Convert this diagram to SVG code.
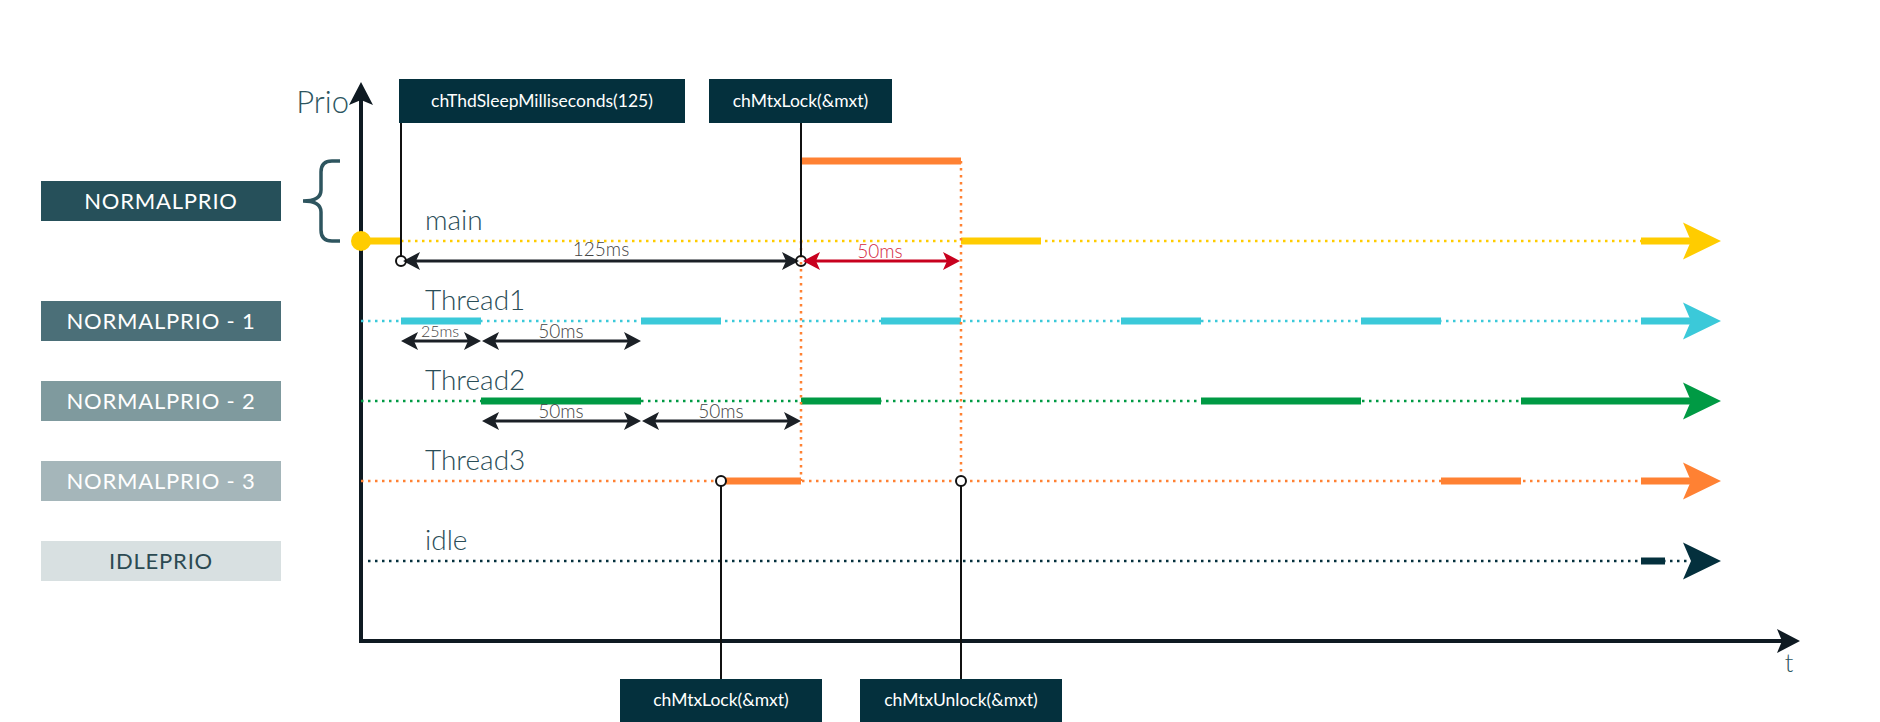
<svg xmlns="http://www.w3.org/2000/svg" xmlns:xlink="http://www.w3.org/1999/xlink" width="1880" height="722" viewBox="0 0 1880 722">
<style>
  text { font-family: Lato, "Open Sans", "Liberation Sans", sans-serif; }
  .lvl { font-size: 22px; fill: #ffffff; text-anchor: middle; letter-spacing: 0.8px; }
  .call { font-size: 17.5px; fill: #ffffff; text-anchor: middle; }
  .row { font-size: 28px; fill: #2a4d57; font-weight: 300; }
  .dur { font-size: 19px; fill: #444444; text-anchor: middle; font-weight: 300; }
  .dot { fill: none; stroke-width: 2.5; stroke-dasharray: 2.5 4.5; }
  .bar { fill: none; stroke-width: 7; }
  .dim { stroke: #1b2026; stroke-width: 3; fill: none; }
  .thin { stroke: #111; stroke-width: 2; fill: none; }
</style>
<defs>
  <path id="bighead" d="M0,0 L-38,-18.5 L-30,0 L-38,18.5 Z"/>
  <path id="dimhead" d="M0,0 L-17,-9 L-13,0 L-17,9 Z"/>
</defs>
<rect width="1880" height="722" fill="#ffffff"/>

<!-- priority level labels -->
<g id="lvl-normal"><rect x="41" y="181" width="240" height="40" fill="#26505a"/><text class="lvl" x="161" y="209">NORMALPRIO</text></g>
<g id="lvl-normal-1"><rect x="41" y="301" width="240" height="40" fill="#4b6f78"/><text class="lvl" x="161" y="329">NORMALPRIO - 1</text></g>
<g id="lvl-normal-2"><rect x="41" y="381" width="240" height="40" fill="#7f9a9e"/><text class="lvl" x="161" y="409">NORMALPRIO - 2</text></g>
<g id="lvl-normal-3"><rect x="41" y="461" width="240" height="40" fill="#a5b6ba"/><text class="lvl" x="161" y="489">NORMALPRIO - 3</text></g>
<g id="lvl-idle"><rect x="41" y="541" width="240" height="40" fill="#d8e0e1"/><text class="lvl" x="161" y="569" style="fill:#2c4a52">IDLEPRIO</text></g>

<!-- brace -->
<g id="brace"><path d="M340,161 H332 Q321,161 321,172 V190 Q321,201 303,201 Q321,201 321,212 V230 Q321,241 332,241 H340" fill="none" stroke="#2e555f" stroke-width="3.5"/></g>

<!-- axes -->
<g id="axes">
  <line x1="361" y1="98" x2="361" y2="643" stroke="#0f1a22" stroke-width="4"/>
  <path d="M361,82 L349,105 L361,100 L373,105 Z" fill="#0f1a22"/>
  <line x1="359" y1="641" x2="1784" y2="641" stroke="#0f1a22" stroke-width="4"/>
  <path d="M1800,641 L1777,629 L1782,641 L1777,653 Z" fill="#0f1a22"/>
  <text x="349" y="113" font-size="31" fill="#2c5560" font-weight="300" text-anchor="end">Prio</text>
  <text x="1789" y="672" font-size="25" fill="#2c5560" text-anchor="middle" font-weight="300">t</text>
</g>

<!-- rows -->
<g id="row-main">
  <text class="row" x="425" y="230">main</text>
  <line class="dot" x1="401" y1="241" x2="1641" y2="241" stroke="#ffcc00"/>
  <line class="bar" x1="361" y1="241" x2="401" y2="241" stroke="#ffcc00"/>
  <circle cx="361" cy="241" r="10" fill="#ffcc00"/>
  <line class="bar" x1="961" y1="241" x2="1041" y2="241" stroke="#ffcc00"/>
  <line class="bar" x1="1641" y1="241" x2="1692" y2="241" stroke="#ffcc00"/>
  <use href="#bighead" xlink:href="#bighead" transform="translate(1721,241)" fill="#ffcc00"/>
</g>
<g id="row-thread1">
  <text class="row" x="425" y="310">Thread1</text>
  <line class="dot" x1="361" y1="321" x2="1641" y2="321" stroke="#3bc9d9"/>
  <line class="bar" x1="401" y1="321" x2="481" y2="321" stroke="#3bc9d9"/>
  <line class="bar" x1="641" y1="321" x2="721" y2="321" stroke="#3bc9d9"/>
  <line class="bar" x1="881" y1="321" x2="961" y2="321" stroke="#3bc9d9"/>
  <line class="bar" x1="1121" y1="321" x2="1201" y2="321" stroke="#3bc9d9"/>
  <line class="bar" x1="1361" y1="321" x2="1441" y2="321" stroke="#3bc9d9"/>
  <line class="bar" x1="1641" y1="321" x2="1692" y2="321" stroke="#3bc9d9"/>
  <use href="#bighead" xlink:href="#bighead" transform="translate(1721,321)" fill="#3bc9d9"/>
</g>
<g id="row-thread2">
  <text class="row" x="425" y="390">Thread2</text>
  <line class="dot" x1="361" y1="401" x2="1521" y2="401" stroke="#009a44"/>
  <line class="bar" x1="481" y1="401" x2="641" y2="401" stroke="#009a44"/>
  <line class="bar" x1="801" y1="401" x2="881" y2="401" stroke="#009a44"/>
  <line class="bar" x1="1201" y1="401" x2="1361" y2="401" stroke="#009a44"/>
  <line class="bar" x1="1521" y1="401" x2="1692" y2="401" stroke="#009a44"/>
  <use href="#bighead" xlink:href="#bighead" transform="translate(1721,401)" fill="#009a44"/>
</g>
<g id="row-thread3">
  <text class="row" x="425" y="470">Thread3</text>
  <line class="dot" x1="361" y1="481" x2="1641" y2="481" stroke="#ff8133"/>
  <line class="bar" x1="721" y1="481" x2="801" y2="481" stroke="#ff8133"/>
  <line class="bar" x1="1441" y1="481" x2="1521" y2="481" stroke="#ff8133"/>
  <line class="bar" x1="1641" y1="481" x2="1692" y2="481" stroke="#ff8133"/>
  <use href="#bighead" xlink:href="#bighead" transform="translate(1721,481)" fill="#ff8133"/>
  <line class="bar" x1="801" y1="161" x2="961" y2="161" stroke="#ff8133"/>
</g>
<g id="row-idle">
  <text class="row" x="425" y="550">idle</text>
  <line class="dot" x1="368" y1="561" x2="1690" y2="561" stroke="#04303d"/>
  <line class="bar" x1="1641" y1="561" x2="1665" y2="561" stroke="#04303d"/>
  <use href="#bighead" xlink:href="#bighead" transform="translate(1721,561)" fill="#04303d"/>
</g>

<!-- call boxes -->
<g id="call-sleep"><rect x="399" y="79" width="286" height="44" fill="#04303d"/><text class="call" x="542" y="107">chThdSleepMilliseconds(125)</text></g>
<g id="call-lock-main"><rect x="709" y="79" width="183" height="44" fill="#04303d"/><text class="call" x="800.5" y="107">chMtxLock(&amp;mxt)</text></g>
<g id="call-lock-t3"><rect x="620" y="679" width="202" height="43" fill="#04303d"/><text class="call" x="721" y="706">chMtxLock(&amp;mxt)</text></g>
<g id="call-unlock-t3"><rect x="860" y="679" width="202" height="43" fill="#04303d"/><text class="call" x="961" y="706">chMtxUnlock(&amp;mxt)</text></g>

<!-- connectors -->
<g id="connectors">
  <line class="dot" x1="801" y1="241" x2="801" y2="481" stroke="#ff8133"/>
  <line class="dot" x1="961" y1="161" x2="961" y2="481" stroke="#ff8133"/>
  <line class="thin" x1="401" y1="123" x2="401" y2="256"/>
  <line class="thin" x1="801" y1="123" x2="801" y2="256"/>
  <line class="thin" x1="721" y1="486" x2="721" y2="679"/>
  <line class="thin" x1="961" y1="486" x2="961" y2="679"/>
  <circle cx="721" cy="481" r="5" fill="#ffffff" stroke="#111" stroke-width="2"/>
  <circle cx="961" cy="481" r="5" fill="#ffffff" stroke="#111" stroke-width="2"/>

  <!-- 125ms -->
  <line class="dim" x1="410" y1="261" x2="792" y2="261"/>
  <use href="#dimhead" xlink:href="#dimhead" transform="translate(403,261) rotate(180)" fill="#1b2026"/>
  <use href="#dimhead" xlink:href="#dimhead" transform="translate(799,261)" fill="#1b2026"/>
  <circle cx="401" cy="261" r="5" fill="none" stroke="#111" stroke-width="2"/>
  <circle cx="801" cy="261" r="5" fill="none" stroke="#111" stroke-width="2"/>
  <text class="dur" x="601" y="256">125ms</text>

  <!-- 50ms red -->
  <line x1="810" y1="261" x2="952" y2="261" stroke="#c8001e" stroke-width="3"/>
  <use href="#dimhead" xlink:href="#dimhead" transform="translate(803,261) rotate(180)" fill="#c8001e"/>
  <use href="#dimhead" xlink:href="#dimhead" transform="translate(960,261)" fill="#c8001e"/>
  <text class="dur" x="880" y="258" style="fill:#d4293f">50ms</text>

  <!-- Thread1 durations -->
  <line class="dim" x1="410" y1="341" x2="472" y2="341"/>
  <use href="#dimhead" xlink:href="#dimhead" transform="translate(401,341) rotate(180)" fill="#1b2026"/>
  <use href="#dimhead" xlink:href="#dimhead" transform="translate(481,341)" fill="#1b2026"/>
  <text class="dur" x="440" y="337" style="font-size:16px">25ms</text>
  <line class="dim" x1="491" y1="341" x2="632" y2="341"/>
  <use href="#dimhead" xlink:href="#dimhead" transform="translate(482,341) rotate(180)" fill="#1b2026"/>
  <use href="#dimhead" xlink:href="#dimhead" transform="translate(641,341)" fill="#1b2026"/>
  <text class="dur" x="561" y="338">50ms</text>

  <!-- Thread2 durations -->
  <line class="dim" x1="491" y1="421" x2="632" y2="421"/>
  <use href="#dimhead" xlink:href="#dimhead" transform="translate(482,421) rotate(180)" fill="#1b2026"/>
  <use href="#dimhead" xlink:href="#dimhead" transform="translate(641,421)" fill="#1b2026"/>
  <text class="dur" x="561" y="418">50ms</text>
  <line class="dim" x1="651" y1="421" x2="792" y2="421"/>
  <use href="#dimhead" xlink:href="#dimhead" transform="translate(642,421) rotate(180)" fill="#1b2026"/>
  <use href="#dimhead" xlink:href="#dimhead" transform="translate(801,421)" fill="#1b2026"/>
  <text class="dur" x="721" y="418">50ms</text>
</g>
</svg>
